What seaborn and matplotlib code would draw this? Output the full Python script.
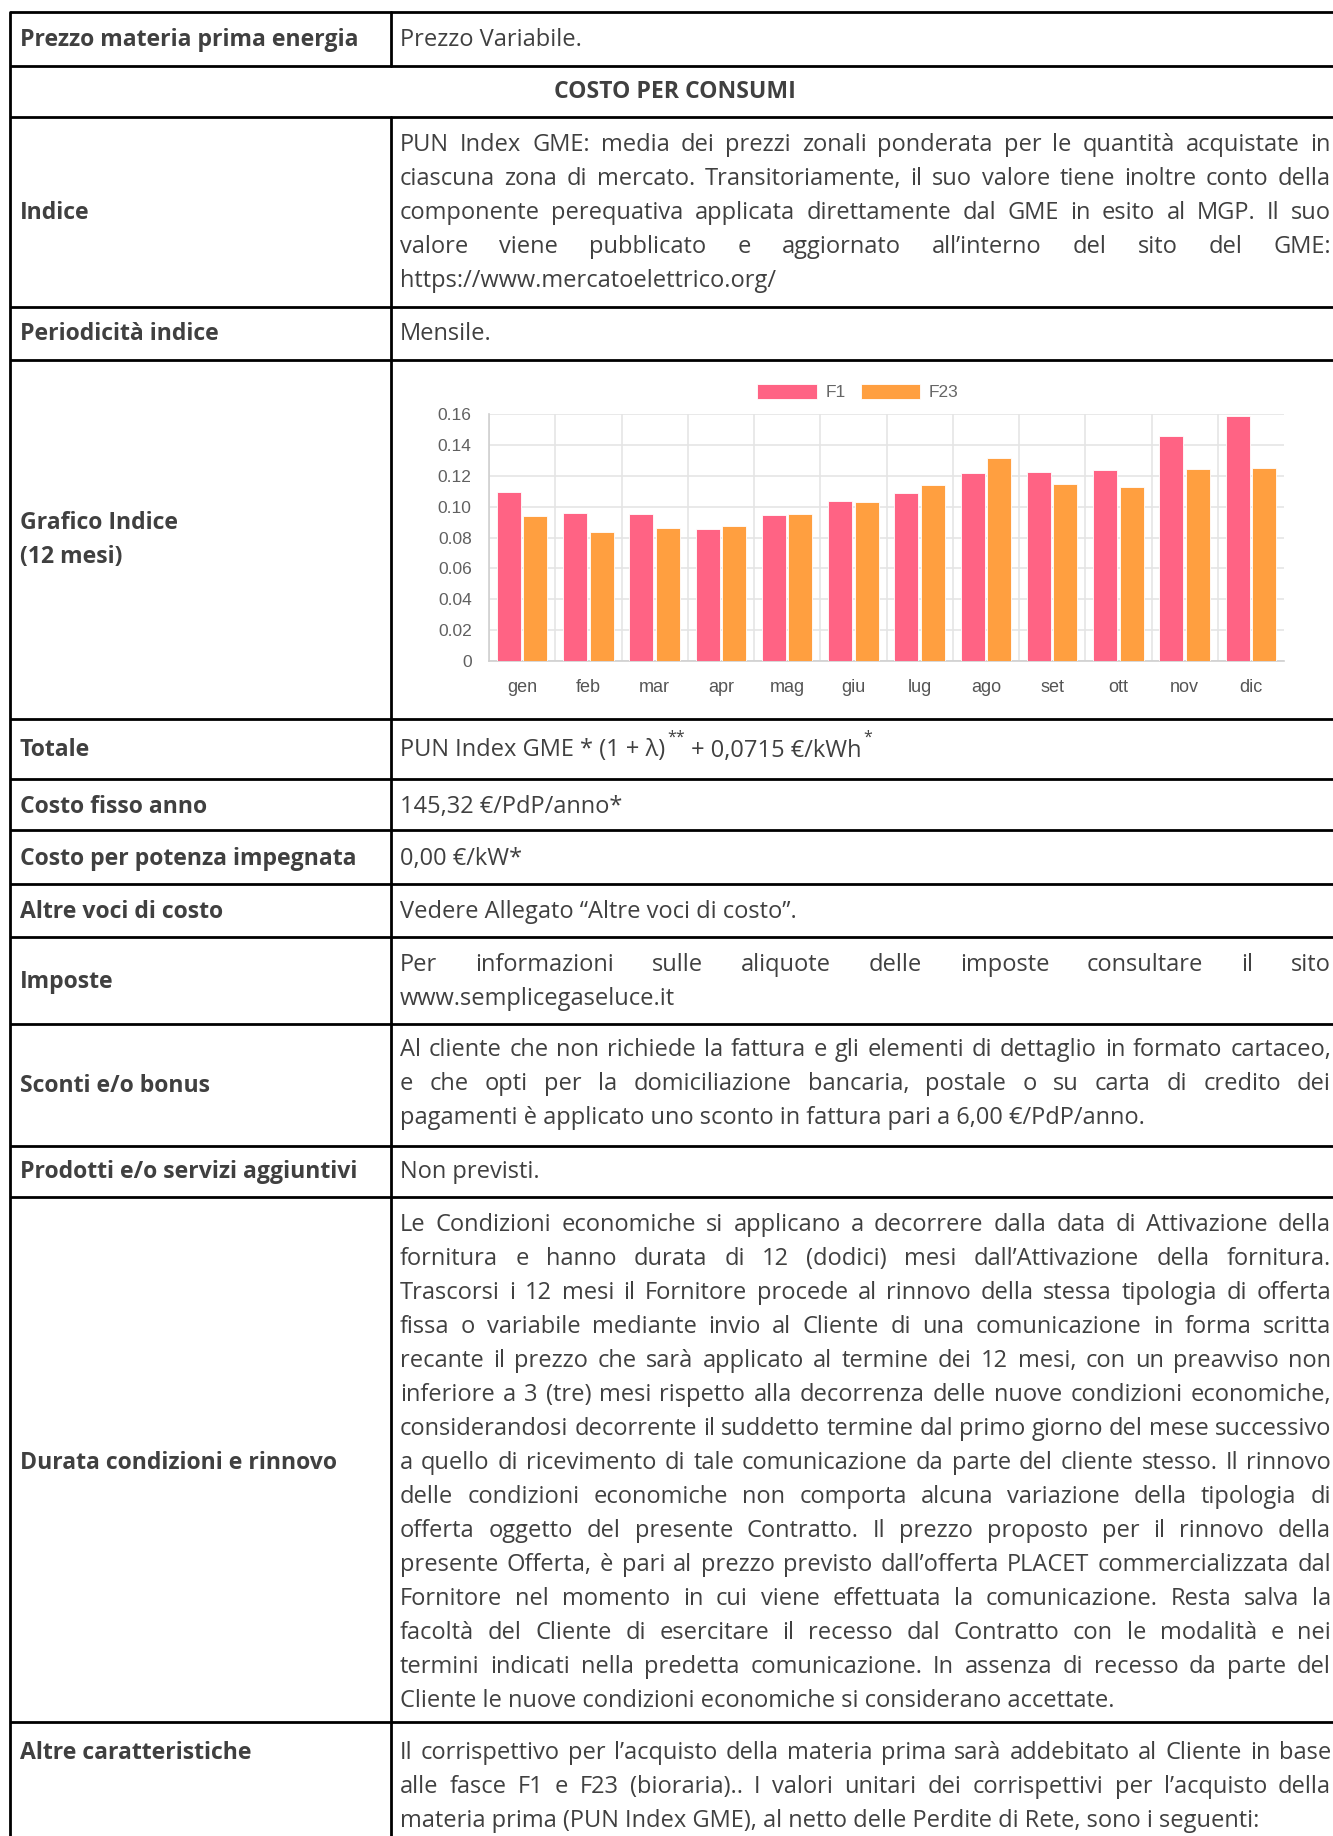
import numpy as np
import pandas as pd
import matplotlib
matplotlib.use("Agg")
import matplotlib.pyplot as plt
import seaborn as sns
from matplotlib.patches import Patch
from matplotlib.lines import Line2D

# ---------------- data ----------------
months = ["gen", "feb", "mar", "apr", "mag", "giu", "lug", "ago", "set", "ott", "nov", "dic"]
f1_values = [0.1095, 0.0961, 0.0950, 0.0855, 0.0948, 0.1039, 0.1087, 0.1216, 0.1223, 0.1240, 0.1457, 0.1584]
f23_values = [0.0942, 0.0833, 0.0862, 0.0874, 0.0950, 0.1030, 0.1141, 0.1316, 0.1147, 0.1130, 0.1245, 0.1253]
series_names = ["F1", "F23"]
y_ticks = [0, 0.02, 0.04, 0.06, 0.08, 0.10, 0.12, 0.14, 0.16]
y_tick_labels = ["0", "0.02", "0.04", "0.06", "0.08", "0.10", "0.12", "0.14", "0.16"]

row1_label = "Prezzo materia prima energia"
row1_value = "Prezzo Variabile."
section_title = "COSTO PER CONSUMI"
indice_label = "Indice"
indice_lines = [
    "PUN Index GME: media dei prezzi zonali ponderata per le quantità acquistate in",
    "ciascuna zona di mercato. Transitoriamente, il suo valore tiene inoltre conto della",
    "componente perequativa applicata direttamente dal GME in esito al MGP. Il suo",
    "valore viene pubblicato e aggiornato all’interno del sito del GME:",
    "https://www.mercatoelettrico.org/",
]
periodicita_label = "Periodicità indice"
periodicita_value = "Mensile."
grafico_label = ["Grafico Indice", "(12 mesi)"]
totale_label = "Totale"
totale_parts = ["PUN Index GME * (1 + λ)", "**", " + 0,0715 €/kWh", "*"]
costo_fisso_label = "Costo fisso anno"
costo_fisso_value = "145,32 €/PdP/anno*"
potenza_label = "Costo per potenza impegnata"
potenza_value = "0,00 €/kW*"
altre_voci_label = "Altre voci di costo"
altre_voci_value = "Vedere Allegato “Altre voci di costo”."
imposte_label = "Imposte"
imposte_lines = [
    "Per informazioni sulle aliquote delle imposte consultare il sito",
    "www.semplicegaseluce.it",
]
sconti_label = "Sconti e/o bonus"
sconti_lines = [
    "Al cliente che non richiede la fattura e gli elementi di dettaglio in formato cartaceo,",
    "e che opti per la domiciliazione bancaria, postale o su carta di credito dei",
    "pagamenti è applicato uno sconto in fattura pari a 6,00 €/PdP/anno.",
]
prodotti_label = "Prodotti e/o servizi aggiuntivi"
prodotti_value = "Non previsti."
durata_label = "Durata condizioni e rinnovo"
durata_lines = [
    "Le Condizioni economiche si applicano a decorrere dalla data di Attivazione della",
    "fornitura e hanno durata di 12 (dodici) mesi dall’Attivazione della fornitura.",
    "Trascorsi i 12 mesi il Fornitore procede al rinnovo della stessa tipologia di offerta",
    "fissa o variabile mediante invio al Cliente di una comunicazione in forma scritta",
    "recante il prezzo che sarà applicato al termine dei 12 mesi, con un preavviso non",
    "inferiore a 3 (tre) mesi rispetto alla decorrenza delle nuove condizioni economiche,",
    "considerandosi decorrente il suddetto termine dal primo giorno del mese successivo",
    "a quello di ricevimento di tale comunicazione da parte del cliente stesso. Il rinnovo",
    "delle condizioni economiche non comporta alcuna variazione della tipologia di",
    "offerta oggetto del presente Contratto. Il prezzo proposto per il rinnovo della",
    "presente Offerta, è pari al prezzo previsto dall’offerta PLACET commercializzata dal",
    "Fornitore nel momento in cui viene effettuata la comunicazione. Resta salva la",
    "facoltà del Cliente di esercitare il recesso dal Contratto con le modalità e nei",
    "termini indicati nella predetta comunicazione. In assenza di recesso da parte del",
    "Cliente le nuove condizioni economiche si considerano accettate.",
]
altre_car_label = "Altre caratteristiche"
altre_car_lines = [
    "Il corrispettivo per l’acquisto della materia prima sarà addebitato al Cliente in base",
    "alle fasce F1 e F23 (bioraria).. I valori unitari dei corrispettivi per l’acquisto della",
    "materia prima (PUN Index GME), al netto delle Perdite di Rete, sono i seguenti:",
]

# ---------------- figure ----------------
W, H = 1333, 1836
sns.set_theme(style="white")
plt.rcParams["font.family"] = ["Open Sans", "DejaVu Sans"]
fig = plt.figure(figsize=(W / 100, H / 100), dpi=100)
fig.patch.set_facecolor("white")


def fx(x):
    return x / W


def fy(y):
    return 1 - y / H


TXT = "#404040"
LBL_KW = dict(fontsize=16.6, fontweight="bold", color=TXT, family=["Open Sans", "DejaVu Sans"])
VAL_KW = dict(fontsize=17.0, color=TXT, family=["Open Sans", "DejaVu Sans"])
BASE = 8  # baseline offset from visual line centre (px)

# table lines
LW = 2.0
row_lines = [12, 66, 117, 307, 360, 719, 779, 830, 884, 937, 1024, 1146, 1197, 1722]
for yy in row_lines:
    fig.add_artist(Line2D([fx(10), fx(W)], [fy(yy), fy(yy)], transform=fig.transFigure,
                          color="black", lw=LW, solid_capstyle="butt"))
fig.add_artist(Line2D([fx(10), fx(10)], [fy(12), fy(H)], transform=fig.transFigure, color="black", lw=LW))
fig.add_artist(Line2D([fx(391), fx(391)], [fy(12), fy(66)], transform=fig.transFigure, color="black", lw=LW))
fig.add_artist(Line2D([fx(391), fx(391)], [fy(117), fy(H)], transform=fig.transFigure, color="black", lw=LW))

renderer = fig.canvas.get_renderer()

X_LBL = 20
X0, X1 = 400, 1331


def put(x, yc, s, kw, ha="left"):
    return fig.text(fx(x), fy(yc + BASE), s, ha=ha, va="baseline", **kw)


def width_of(s, kw):
    t = fig.text(0, 0, s, **kw)
    w = t.get_window_extent(renderer).width
    t.remove()
    return w


def paragraph(lines, y_first, step=34, justify_last=False):
    for i, line in enumerate(lines):
        yc = y_first + i * step
        last = i == len(lines) - 1
        words = line.split(" ")
        if (last and not justify_last) or len(words) == 1:
            put(X0, yc, line, VAL_KW)
            continue
        ws = [width_of(w, VAL_KW) for w in words]
        gap = (X1 - X0 - sum(ws)) / (len(words) - 1)
        x = X0
        for w, wd in zip(words, ws):
            put(x, yc, w, VAL_KW)
            x += wd + gap


# row 1
put(X_LBL, 37.5, row1_label, LBL_KW)
put(X0, 37.5, row1_value, VAL_KW)
# section
put((10 + 1340) / 2, 90, section_title, LBL_KW, ha="center")
# indice
put(X_LBL, 211, indice_label, LBL_KW)
paragraph(indice_lines, 143)
# periodicita
put(X_LBL, 331.5, periodicita_label, LBL_KW)
put(X0, 331.5, periodicita_value, VAL_KW)
# grafico
put(X_LBL, 521, grafico_label[0], LBL_KW)
put(X_LBL, 555, grafico_label[1], LBL_KW)
# totale
put(X_LBL, 748.5, totale_label, LBL_KW)
SUP_KW = dict(VAL_KW, fontsize=11.5)
x = X0
for k, part in enumerate(totale_parts):
    if k % 2 == 0:
        put(x, 748.5, part, VAL_KW)
        x += width_of(part, VAL_KW) + 2
    else:
        fig.text(fx(x), fy(748.5 + BASE - 15), part, ha="left", va="baseline", **SUP_KW)
        x += width_of(part, SUP_KW)
# other rows
put(X_LBL, 805, costo_fisso_label, LBL_KW)
put(X0, 805, costo_fisso_value, VAL_KW)
put(X_LBL, 857, potenza_label, LBL_KW)
put(X0, 857, potenza_value, VAL_KW)
put(X_LBL, 910, altre_voci_label, LBL_KW)
put(X0, 910, altre_voci_value, VAL_KW)
put(X_LBL, 980, imposte_label, LBL_KW)
paragraph(imposte_lines, 963)
put(X_LBL, 1083.5, sconti_label, LBL_KW)
paragraph(sconti_lines, 1048)
put(X_LBL, 1170, prodotti_label, LBL_KW)
put(X0, 1170, prodotti_value, VAL_KW)
put(X_LBL, 1461, durata_label, LBL_KW)
paragraph(durata_lines, 1223, step=33.97)
put(X_LBL, 1751, altre_car_label, LBL_KW)
paragraph(altre_car_lines, 1751)

# ---------------- chart ----------------
PINK = "#ff6384"
ORANGE = "#ff9f40"
GRID = "#e5e5e5"
CFONT = ["Liberation Sans", "DejaVu Sans"]

ax = fig.add_axes([fx(489), fy(661), (1284 - 489) / W, (661 - 414) / H])
df = pd.DataFrame({
    "mese": months * 2,
    "valore": f1_values + f23_values,
    "fascia": [series_names[0]] * len(months) + [series_names[1]] * len(months),
})
sns.barplot(data=df, x="mese", y="valore", hue="fascia", palette=[PINK, ORANGE],
            width=0.8, gap=0.1, saturation=1, legend=False, ax=ax,
            edgecolor="white", linewidth=0.6, zorder=3)
ax.set_xlim(-0.5, len(months) - 0.5)
ax.set_ylim(0, 0.16)
ax.set_xlabel("")
ax.set_ylabel("")
ax.set_yticks(y_ticks)
ax.set_yticklabels(y_tick_labels)
ax.set_xticks(range(len(months)))
ax.set_xticklabels(months)
ax.set_xticks(np.arange(-0.5, len(months) - 1, 1), minor=True)
ax.set_axisbelow(True)
ax.grid(False)
ax.grid(which="major", axis="y", color=GRID, lw=1.2)
ax.grid(which="minor", axis="x", color=GRID, lw=1.2)
ax.tick_params(axis="y", which="major", length=8.5, width=1.2, color=GRID, pad=4,
               labelsize=12.5, labelcolor="#606060")
ax.tick_params(axis="x", which="major", length=0, pad=13, labelsize=13, labelcolor="#555555")
ax.tick_params(axis="x", which="minor", length=8, width=1.2, color=GRID)
for lab in ax.get_xticklabels() + ax.get_yticklabels():
    lab.set_family(CFONT)
for side in ["top", "right"]:
    ax.spines[side].set_visible(False)
for side in ["left", "bottom"]:
    ax.spines[side].set_color("#cfcfcf")
    ax.spines[side].set_linewidth(1.2)
ax.set_facecolor("white")

handles = [Patch(facecolor=PINK, edgecolor="white", lw=0.6),
           Patch(facecolor=ORANGE, edgecolor="white", lw=0.6)]
fig.legend(handles, series_names, loc="center", bbox_to_anchor=(fx(858), fy(392)),
           bbox_transform=fig.transFigure, ncol=2, frameon=False,
           handlelength=3.4, handleheight=1.0, handletextpad=0.5, columnspacing=0.9,
           prop={"family": CFONT, "size": 12.5}, labelcolor="#666666")

fig.savefig("out.png", dpi=100, facecolor="white")
